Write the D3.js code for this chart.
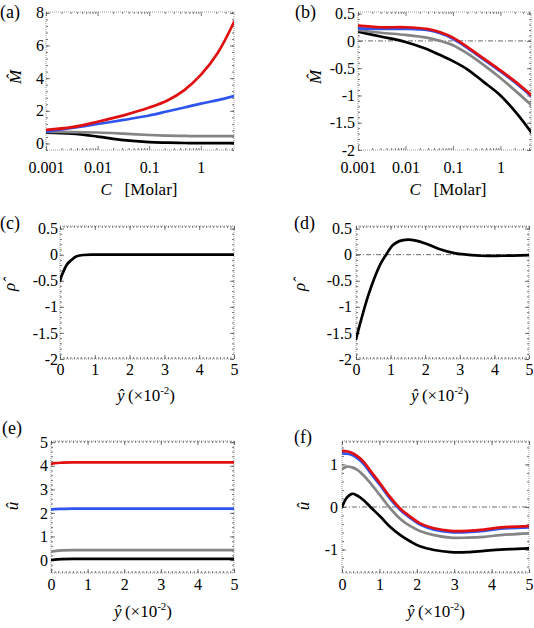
<!DOCTYPE html>
<html><head><meta charset="utf-8">
<script src="https://cdn.jsdelivr.net/npm/d3@7"></script>
<style>body{margin:0;background:#fff} svg text{font-family:"Liberation Serif";}</style>
</head><body><svg id="c" width="534" height="628"></svg>
<script>
// ---------------- data ----------------
const seriesNames = ["black", "gray", "blue", "red"];
const seriesColors = ["#000000", "#858585", "#2f55ee", "#e01010"];

// (a) M-hat vs C
const concA = [0.001, 0.0032, 0.01, 0.032, 0.1, 0.23, 0.48, 1, 2.14, 4.4];
const aRed   = [0.83, 1.0, 1.33, 1.72, 2.2, 2.65, 3.27, 4.2, 5.56, 7.44];
const aBlue  = [0.73, 0.95, 1.19, 1.44, 1.71, 1.97, 2.2, 2.44, 2.65, 2.9];
const aGray  = [0.71, 0.7, 0.67, 0.6, 0.52, 0.48, 0.46, 0.45, 0.45, 0.45];
const aBlack = [0.67, 0.6, 0.42, 0.2, 0.08, 0.05, 0.03, 0.02, 0.02, 0.02];

// (b) M-hat vs C
const concB = [0.001, 0.003, 0.01, 0.028, 0.054, 0.1, 0.2, 0.44, 1, 2.16, 4.4];
const bRed   = [0.28, 0.25, 0.25, 0.22, 0.16, 0.06, -0.11, -0.32, -0.54, -0.76, -0.99];
const bBlue  = [0.23, 0.22, 0.22, 0.2, 0.14, 0.04, -0.13, -0.34, -0.56, -0.78, -1.01];
const bGray  = [0.2, 0.15, 0.11, 0.06, 0.0, -0.08, -0.23, -0.44, -0.68, -0.93, -1.17];
const bBlack = [0.17, 0.08, -0.02, -0.15, -0.26, -0.37, -0.52, -0.75, -1.0, -1.32, -1.67];

// (c) rho-hat vs y-hat
const yC = [0, 0.05, 0.1, 0.2, 0.33, 0.48, 0.67, 0.9, 1.5, 5];
const cBlack = [-0.5, -0.4, -0.32, -0.19, -0.1, -0.03, -0.006, 0, 0, 0];

// (d) rho-hat vs y-hat
const yD = [0, 0.14, 0.34, 0.53, 0.72, 0.87, 1.06, 1.25, 1.5, 1.73, 2.07, 2.45, 2.84, 3.22, 3.6, 4.2, 5];
const dBlack = [-1.62, -1.27, -0.81, -0.45, -0.16, 0, 0.18, 0.26, 0.29, 0.27, 0.2, 0.1, 0.03, 0, -0.02, -0.02, -0.01];

// (e) u-hat vs y-hat
const yE = [0, 0.1, 0.3, 0.6, 1, 2, 3, 4, 5];
const eRed   = [4.08, 4.11, 4.13, 4.14, 4.14, 4.14, 4.14, 4.14, 4.14];
const eBlue  = [2.15, 2.16, 2.17, 2.18, 2.18, 2.18, 2.18, 2.18, 2.18];
const eGray  = [0.35, 0.38, 0.41, 0.42, 0.42, 0.42, 0.42, 0.42, 0.42];
const eBlack = [0.0, 0.02, 0.04, 0.05, 0.05, 0.05, 0.05, 0.05, 0.05];

// (f) u-hat vs y-hat
const yF = [0, 0.13, 0.27, 0.4, 0.58, 0.76, 1.03, 1.29, 1.56, 1.83, 2.1, 2.46, 2.9, 3.35, 3.8, 4.24, 5];
const fRed   = [1.32, 1.31, 1.27, 1.2, 1.06, 0.85, 0.54, 0.23, -0.04, -0.23, -0.39, -0.5, -0.56, -0.56, -0.53, -0.48, -0.45];
const fBlue  = [1.26, 1.25, 1.22, 1.15, 1.01, 0.8, 0.5, 0.19, -0.07, -0.26, -0.42, -0.53, -0.59, -0.59, -0.56, -0.51, -0.48];
const fGray  = [0.89, 0.95, 0.93, 0.88, 0.74, 0.56, 0.26, -0.03, -0.28, -0.45, -0.57, -0.66, -0.72, -0.72, -0.7, -0.66, -0.62];
const fBlack = [0.0, 0.22, 0.31, 0.27, 0.16, 0.0, -0.23, -0.47, -0.66, -0.81, -0.93, -1.01, -1.06, -1.06, -1.03, -1.0, -0.97];

// ticks
const xTicksLog = [0.001, 0.01, 0.1, 1];
const xTickLabelsLog = ["0.001", "0.01", "0.1", "1"];
const xTicksY = [0, 1, 2, 3, 4, 5];
const xTickLabelsY = ["0", "1", "2", "3", "4", "5"];
const yTicksA = [0, 2, 4, 6, 8];
const yTickLabelsA = ["0", "2", "4", "6", "8"];
const yTicksHalf = [0.5, 0, -0.5, -1, -1.5, -2];
const yTickLabelsHalf = ["0.5", "0", "-0.5", "-1", "-1.5", "-2"];
const yTicksE = [0, 1, 2, 3, 4, 5];
const yTickLabelsE = ["0", "1", "2", "3", "4", "5"];
const yTicksF = [-1, 0, 1];
const yTickLabelsF = ["-1", "0", "1"];
const panelLabels = ["(a)", "(b)", "(c)", "(d)", "(e)", "(f)"];

// ---------------- drawing ----------------
const FONT = "Liberation Serif";
const svg = d3.select("#c");
svg.append("rect").attr("width", 534).attr("height", 628).attr("fill", "#fff");

function serif(sel, size) {
  return sel.attr("font-family", FONT).style("font-family", '"Liberation Serif"').attr("font-size", size).style("font-size", size + "px");
}
function range(a, b, s) { const r = []; for (let v = a; v <= b + 1e-9; v += s) r.push(+v.toFixed(6)); return r; }
function logMinor(lo, hi) {
  const r = [];
  for (let e = -3; e <= 1; e++) for (let k = 2; k <= 9; k++) { const v = k * Math.pow(10, e); if (v >= lo && v <= hi) r.push(v); }
  return r;
}

let clipN = 0;
function panel(cfg) {
  const g = svg.append("g");
  const x = cfg.x, y = cfg.y;
  const [x0, x1] = x.range();
  const [yb, yt] = y.range();
  const id = "clip" + (clipN++);
  g.append("clipPath").attr("id", id).append("rect")
    .attr("x", x0).attr("y", yt).attr("width", x1 - x0).attr("height", yb - yt);

  // frame
  g.append("rect").attr("x", x0).attr("y", yt).attr("width", x1 - x0).attr("height", yb - yt)
    .attr("fill", "none").attr("stroke", "#9a9a9a").attr("stroke-width", 1).attr("stroke-dasharray", "1,1");

  const tickStyle = sel => { sel.select(".domain").remove(); sel.attr("font-family", FONT); sel.selectAll("line").attr("stroke", "#555").attr("stroke-width", 0.8); };

  // minor ticks
  g.append("g").attr("transform", `translate(0,${yb})`).call(d3.axisBottom(x).tickValues(cfg.xMinor).tickSize(-2).tickFormat("")).call(tickStyle);
  g.append("g").attr("transform", `translate(0,${yt})`).call(d3.axisTop(x).tickValues(cfg.xMinor).tickSize(-2).tickFormat("")).call(tickStyle);
  g.append("g").attr("transform", `translate(${x0},0)`).call(d3.axisLeft(y).tickValues(cfg.yMinor).tickSize(-2).tickFormat("")).call(tickStyle);
  g.append("g").attr("transform", `translate(${x1},0)`).call(d3.axisRight(y).tickValues(cfg.yMinor).tickSize(-2).tickFormat("")).call(tickStyle);

  // major ticks with labels
  const fs = 16;
  g.append("g").attr("transform", `translate(0,${yb})`)
    .call(d3.axisBottom(x).tickValues(cfg.xTicks).tickSize(-4).tickPadding(cfg.xPad).tickFormat((d, i) => cfg.xLabels[i]))
    .call(tickStyle)
    .call(s => serif(s.selectAll("text"), fs).attr("fill", "#000"));
  g.append("g").attr("transform", `translate(0,${yt})`)
    .call(d3.axisTop(x).tickValues(cfg.xTicks).tickSize(-4).tickFormat("")).call(tickStyle);
  g.append("g").attr("transform", `translate(${x0},0)`)
    .call(d3.axisLeft(y).tickValues(cfg.yTicks).tickSize(-4).tickPadding(cfg.yPad).tickFormat((d, i) => cfg.yLabels[i]))
    .call(tickStyle)
    .call(s => serif(s.selectAll("text"), fs).attr("fill", "#000"));
  g.append("g").attr("transform", `translate(${x1},0)`)
    .call(d3.axisRight(y).tickValues(cfg.yTicks).tickSize(-4).tickFormat("")).call(tickStyle);

  const plot = g.append("g").attr("clip-path", `url(#${id})`);
  if (cfg.zero) {
    plot.append("line").attr("x1", x0).attr("x2", x1).attr("y1", y(0)).attr("y2", y(0))
      .attr("stroke", "#6a6a6a").attr("stroke-width", 1).attr("stroke-dasharray", "5,2,1,2");
  }
  const line = d3.line().x(d => x(d[0])).y(d => y(d[1])).curve(cfg.curve || d3.curveCatmullRom.alpha(0.5));
  cfg.series.forEach(s => {
    plot.append("path").datum(cfg.xs.map((v, i) => [v, s.vals[i]]))
      .attr("d", line).attr("fill", "none").attr("stroke", s.color)
      .attr("stroke-width", 2.7).attr("stroke-linejoin", "round").attr("stroke-linecap", "round");
  });

  // panel label
  serif(svg.append("text").attr("x", cfg.lab[0]).attr("y", cfg.lab[1]), 18).text(cfg.label);

  // y title (rotated)
  serif(svg.append("text").attr("transform", `translate(${cfg.yTitlePos[0]},${cfg.yTitlePos[1]}) rotate(-90)`)
    .attr("text-anchor", "middle"), 17).attr("font-style", "italic").style("font-style", "italic").text(cfg.yTitle);

  // x title
  const xt = serif(svg.append("text").attr("x", cfg.xTitlePos[0]).attr("y", cfg.xTitlePos[1]).attr("text-anchor", "middle"), 17);
  if (cfg.xTitleType === "C") {
    xt.append("tspan").style("font-style", "italic").text("C");
    xt.append("tspan").text("\u2002 [Molar]");
  } else {
    xt.append("tspan").style("font-style", "italic").text("\u0177");
    xt.append("tspan").text("\u2009(\u00d710");
    xt.append("tspan").style("font-size", "11px").attr("dy", -7).text("-2");
    xt.append("tspan").attr("dy", 7).text(")");
  }
}

const col = i => seriesColors[i];

// (a)
panel({
  x: d3.scaleLog().domain([0.001, 4.4]).range([46, 234]),
  y: d3.scaleLinear().domain([-0.4, 8.05]).range([150, 12]),
  xTicks: xTicksLog, xLabels: xTickLabelsLog, xMinor: logMinor(0.001, 4.4), xPad: 12,
  yTicks: yTicksA, yLabels: yTickLabelsA, yMinor: range(-0.4, 8, 0.4), yPad: 2,
  xs: concA,
  series: [{vals: aBlack, color: col(0)}, {vals: aGray, color: col(1)}, {vals: aBlue, color: col(2)}, {vals: aRed, color: col(3)}],
  label: panelLabels[0], lab: [0, 18],
  yTitle: "M\u0302", yTitlePos: [21, 77],
  xTitleType: "C", xTitlePos: [139, 195]
});

// (b)
panel({
  x: d3.scaleLog().domain([0.001, 4.4]).range([358, 531]),
  y: d3.scaleLinear().domain([-2, 0.53]).range([150, 12]),
  xTicks: xTicksLog, xLabels: xTickLabelsLog, xMinor: logMinor(0.001, 4.4), xPad: 12,
  yTicks: yTicksHalf, yLabels: yTickLabelsHalf, yMinor: range(-2, 0.5, 0.1), yPad: 3,
  xs: concB, zero: true,
  series: [{vals: bBlack, color: col(0)}, {vals: bGray, color: col(1)}, {vals: bBlue, color: col(2)}, {vals: bRed, color: col(3)}],
  label: panelLabels[1], lab: [295, 18],
  yTitle: "M\u0302", yTitlePos: [321, 77],
  xTitleType: "C", xTitlePos: [448, 195]
});

// (c)
panel({
  x: d3.scaleLinear().domain([0, 5]).range([60, 234]),
  y: d3.scaleLinear().domain([-2, 0.55]).range([359, 226]),
  xTicks: xTicksY, xLabels: xTickLabelsY, xMinor: range(0, 5, 0.1), xPad: 5,
  yTicks: yTicksHalf, yLabels: yTickLabelsHalf, yMinor: range(-2, 0.5, 0.1), yPad: 2,
  xs: yC, curve: d3.curveMonotoneX,
  series: [{vals: cBlack, color: col(0)}],
  label: panelLabels[2], lab: [0, 229],
  yTitle: "\u03c1\u0302", yTitlePos: [15, 287],
  xTitleType: "y", xTitlePos: [146, 401]
});

// (d)
panel({
  x: d3.scaleLinear().domain([0, 5]).range([356, 529]),
  y: d3.scaleLinear().domain([-2, 0.55]).range([359, 226]),
  xTicks: xTicksY, xLabels: xTickLabelsY, xMinor: range(0, 5, 0.1), xPad: 5,
  yTicks: yTicksHalf, yLabels: yTickLabelsHalf, yMinor: range(-2, 0.5, 0.1), yPad: 4,
  xs: yD, zero: true,
  series: [{vals: dBlack, color: col(0)}],
  label: panelLabels[3], lab: [294, 229],
  yTitle: "\u03c1\u0302", yTitlePos: [305, 287],
  xTitleType: "y", xTitlePos: [440, 401]
});

// (e)
panel({
  x: d3.scaleLinear().domain([0, 5]).range([51, 234]),
  y: d3.scaleLinear().domain([-0.55, 5.05]).range([573, 441]),
  xTicks: xTicksY, xLabels: xTickLabelsY, xMinor: range(0, 5, 0.1), xPad: 6,
  yTicks: yTicksE, yLabels: yTickLabelsE, yMinor: range(-0.4, 5, 0.2), yPad: 3,
  xs: yE, curve: d3.curveMonotoneX,
  series: [{vals: eBlack, color: col(0)}, {vals: eGray, color: col(1)}, {vals: eBlue, color: col(2)}, {vals: eRed, color: col(3)}],
  label: panelLabels[4], lab: [2, 434],
  yTitle: "\u00fb", yTitlePos: [18, 506],
  xTitleType: "y", xTitlePos: [143, 617]
});

// (f)
panel({
  x: d3.scaleLinear().domain([0, 5]).range([342, 529]),
  y: d3.scaleLinear().domain([-1.55, 1.55]).range([573, 441]),
  xTicks: xTicksY, xLabels: xTickLabelsY, xMinor: range(0, 5, 0.1), xPad: 6,
  yTicks: yTicksF, yLabels: yTickLabelsF, yMinor: range(-1.4, 1.4, 0.2), yPad: 4,
  xs: yF, zero: true,
  series: [{vals: fBlack, color: col(0)}, {vals: fGray, color: col(1)}, {vals: fBlue, color: col(2)}, {vals: fRed, color: col(3)}],
  label: panelLabels[5], lab: [294, 443],
  yTitle: "\u00fb", yTitlePos: [309, 506],
  xTitleType: "y", xTitlePos: [436, 617]
});
</script>
</body></html>
